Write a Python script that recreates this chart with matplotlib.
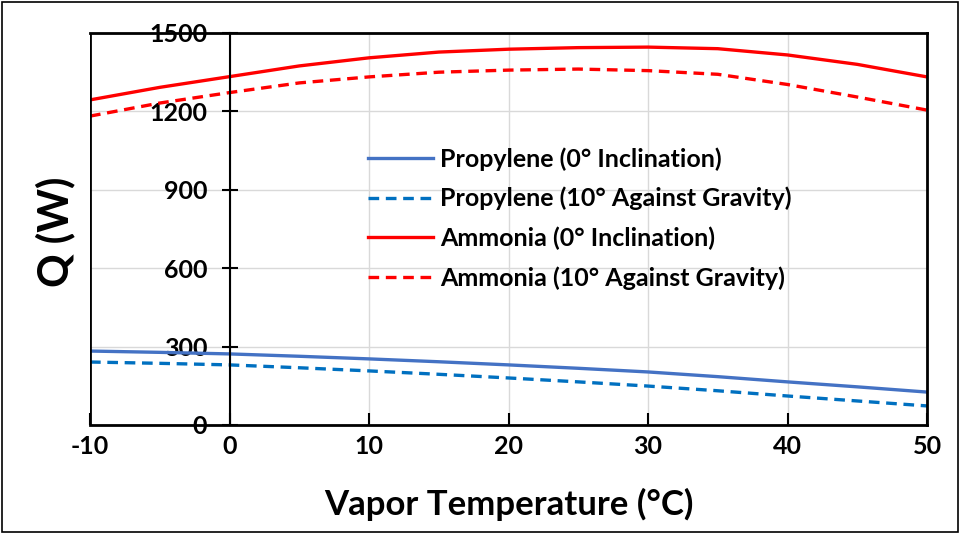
import matplotlib
matplotlib.use("Agg")
import matplotlib.pyplot as plt
from matplotlib.patches import Rectangle

plt.rcParams["font.family"] = ["Lato", "DejaVu Sans"]
plt.rcParams["axes.unicode_minus"] = False

# Vapor temperature (°C)
temp = [-10, -5, 0, 5, 10, 15, 20, 25, 30, 35, 40, 45, 50]

# Heat transport Q (W)
propylene_0 = [283, 278, 272, 263, 253, 242, 230, 217, 203, 185, 165, 146, 126]
propylene_10 = [241, 236, 230, 219, 207, 194, 180, 165, 149, 131, 111, 92, 73]
ammonia_0 = [1244, 1292, 1333, 1374, 1405, 1427, 1438, 1444, 1446, 1440, 1416, 1380, 1332]
ammonia_10 = [1182, 1232, 1272, 1309, 1332, 1350, 1358, 1362, 1356, 1342, 1303, 1255, 1205]

x_ticks = [-10, 0, 10, 20, 30, 40, 50]
y_ticks = [0, 300, 600, 900, 1200, 1500]

fig = plt.figure(figsize=(9.61, 5.34), dpi=100)
ax = fig.add_axes([90 / 961, 1 - 425 / 534, (927 - 90) / 961, (425 - 33) / 534])

ax.plot(temp, propylene_0, color="#4472C4", lw=2.4, label="Propylene (0° Inclination)")
ax.plot(temp, propylene_10, color="#0070C0", lw=2.4, ls=(0, (3.2, 2)),
        label="Propylene (10° Against Gravity)")
ax.plot(temp, ammonia_0, color="#FF0000", lw=2.4, label="Ammonia (0° Inclination)")
ax.plot(temp, ammonia_10, color="#FF0000", lw=2.4, ls=(0, (3.2, 2)),
        label="Ammonia (10° Against Gravity)")

ax.set_xlim(-10, 50)
ax.set_ylim(0, 1500)
ax.set_xticks(x_ticks)
ax.set_yticks(y_ticks)
ax.grid(True, color="#d9d9d9", lw=1)
ax.set_axisbelow(True)

# y axis crosses at x = 0
ax.spines["left"].set_position(("data", 0))
ax.axvline(-10, color="black", lw=2, zorder=5)
for s in ["left", "right", "top", "bottom"]:
    ax.spines[s].set_linewidth(1.5 if s == "left" else 2)

ax.tick_params(axis="y", direction="inout", length=12, width=1.5,
               labelsize=18, pad=10)
ax.tick_params(axis="x", direction="in", length=9, width=1.5,
               labelsize=18, pad=7)
for lbl in ax.get_xticklabels() + ax.get_yticklabels():
    lbl.set_fontweight("bold")

ax.set_xlabel("Vapor Temperature (°C)", fontsize=25, fontweight="bold", labelpad=22)
fig.text(55 / 961, 1 - 232 / 534, "Q (W)", fontsize=30, fontweight="bold",
         rotation=90, ha="center", va="center")

ax.legend(loc="upper left", bbox_to_anchor=(368 / 961, 1 - 147 / 534),
          bbox_transform=fig.transFigure, frameon=False, borderpad=0,
          borderaxespad=0, handlelength=2.6, handletextpad=0.3, labelspacing=0.65,
          prop={"weight": "bold", "size": 18})

fig.patches.append(Rectangle((0.002, 0.004), 0.995, 0.992, transform=fig.transFigure,
                             fill=False, edgecolor="black", lw=1.2))

fig.savefig("out.png", dpi=100)
